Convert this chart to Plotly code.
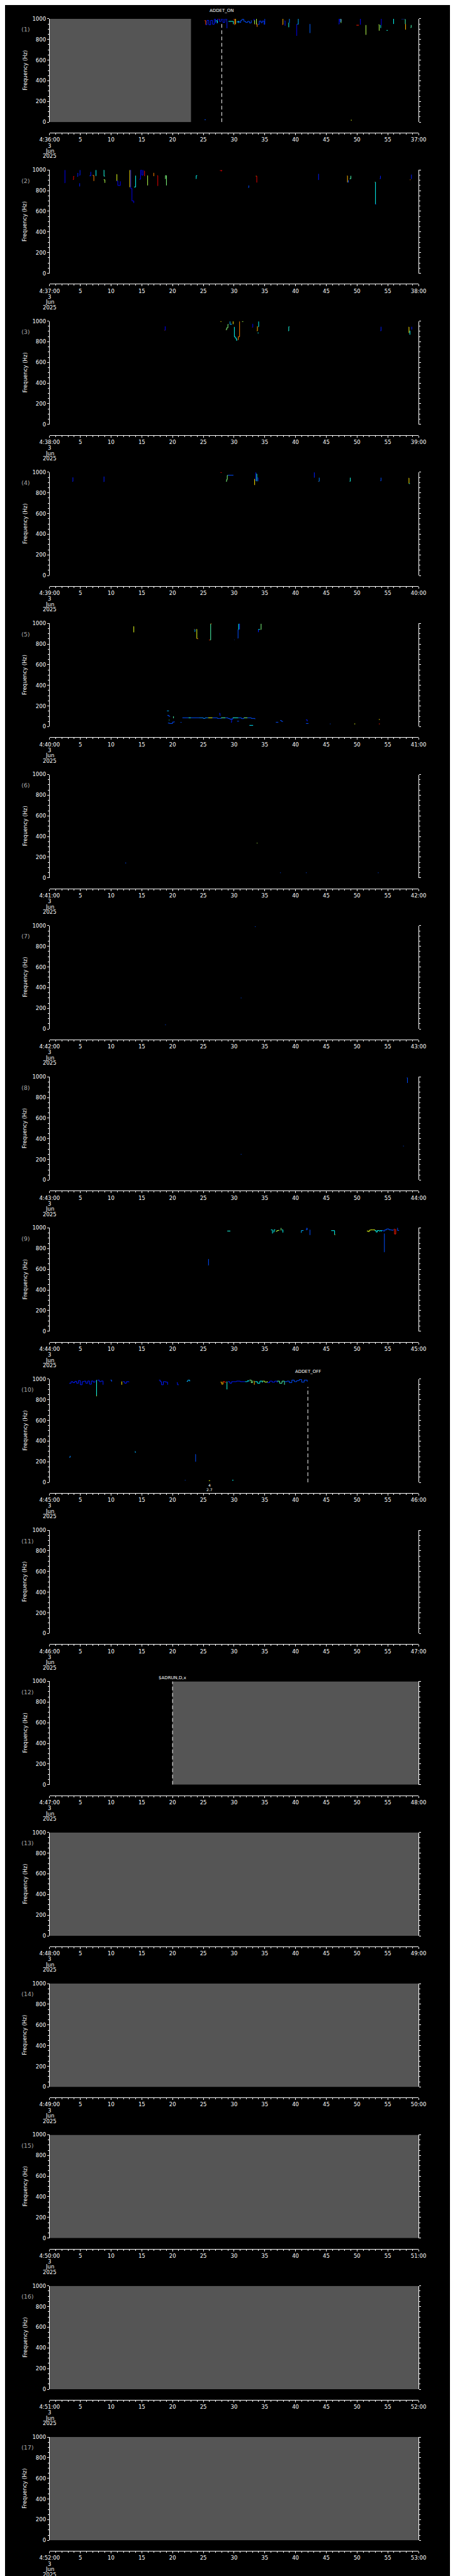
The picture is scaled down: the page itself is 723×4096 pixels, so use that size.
import plotly.graph_objects as go

# ---------------- reference geometry (reference pixels) ----------------
REF_W, REF_H = 1024.0, 5802.0
FIG_W, FIG_H = 723, 4096

N_PANELS = 17
START_HOUR = 4
START_MIN = 36
PLOT_L, PLOT_R = 80.7, 944.5
TOP0, PITCH, PLOT_H, AX_GAP = 24.0, 341.25, 233.3, 24.0

X_TICKS = list(range(0, 61, 5))
X_MINOR = list(range(0, 61, 1))
Y_TICKS = list(range(0, 1001, 200))
DATE_LINES = ["3", "Jun", "2025"]

# gray (no data) spans: panel -> (t0, t1) seconds
GRAY_SPANS = {1: (0, 23.0), 12: (20, 60), 13: (0, 60), 14: (0, 60),
              15: (0, 60), 16: (0, 60), 17: (0, 60)}

# event markers: (panel, time s, label, dashed line top Hz, label offset above panel top in ref px)
EVENTS = [(1, 28.0, "ADDET_ON", 967, 18),
          (10, 42.0, "ADDET_OFF", 923, 17),
          (12, 20.0, "$ADRUN,D,x", 1000, 8)]

# small text marks under panel 10
P10_MARKS = [(26.0, "4", 5.7), (26.0, "2.7", 15.7)]

# ---------------- traces: (colour level 0..1 on jet, times s, freqs Hz) ----------------
P1 = [
    (0.80, [25.2, 25.4], [982, 943]),
    (0.15, [25.4, 25.6, 25.9, 26.2, 26.5, 26.8, 27.0, 27.3, 27.6, 27.9], [943, 985, 943, 985, 948, 1000, 962, 1000, 975, 1000]),
    (0.38, [27.0, 27.3], [980, 958]),
    (0.90, [27.5, 27.7], [998, 998]),
    (0.15, [27.9, 28.2, 28.5, 28.8, 28.85], [1000, 965, 1000, 975, 908]),
    (0.40, [29.1, 29.6, 29.9], [975, 975, 948]),
    (0.80, [29.95, 30.1], [995, 940]),
    (0.65, [30.2, 30.25], [1000, 948]),
    (0.20, [30.4, 30.7, 30.9, 31.1, 31.3, 31.6, 31.9, 32.2, 32.5, 32.8], [970, 975, 965, 985, 995, 975, 965, 975, 960, 985]),
    (0.38, [30.6, 30.7], [975, 960]),
    (0.12, [33.2, 33.25], [1000, 980]),
    (0.55, [33.3, 33.35], [985, 948]),
    (0.90, [33.35, 33.45], [945, 945]),
    (0.55, [33.6, 33.65], [1000, 946]),
    (0.75, [33.7, 33.75], [950, 922]),
    (0.18, [33.9, 34.1, 34.4, 34.6, 34.9, 35.0], [946, 978, 962, 978, 946, 1000]),
    (0.90, [37.8, 37.9], [943, 943]),
    (0.70, [37.9, 37.95], [1000, 944]),
    (0.15, [38.2, 38.3], [980, 933]),
    (0.40, [38.85, 38.9], [960, 918]),
    (0.25, [38.95, 39.0], [1000, 960]),
    (0.10, [40.15, 40.2], [948, 835]),
    (0.30, [40.3, 40.45], [948, 1000]),
    (0.22, [42.3, 42.35], [948, 862]),
    (0.15, [47.0, 47.1, 47.2, 47.4], [950, 1000, 975, 1000]),
    (0.50, [47.3, 47.4], [995, 960]),
    (0.60, [49.0, 49.15], [19, 19]),
    (0.20, [25.2, 25.4], [23, 23]),
    (0.85, [49.9, 50.3], [938, 938]),
    (0.12, [50.5, 50.55], [1000, 943]),
    (0.55, [51.4, 51.45], [938, 845]),
    (0.55, [53.5, 53.6], [943, 885]),
    (0.40, [53.8, 53.85], [938, 910]),
    (0.10, [53.9, 53.95], [1000, 938]),
    (0.40, [54.8, 55.0], [888, 888]),
    (0.38, [55.9, 55.95], [1000, 950]),
    (0.20, [57.2, 57.7], [1000, 1000]),
    (0.45, [57.8, 57.85], [995, 948]),
    (0.70, [57.85, 57.9], [948, 895]),
    (0.45, [58.7, 58.8], [915, 940]),
]

P2 = [
    (0.12, [2.45, 2.5], [875, 1000]),
    (0.90, [3.8, 3.9, 4.0], [907, 938, 938]),
    (0.15, [4.5, 4.6], [938, 971]),
    (0.15, [4.85, 4.95], [950, 1000]),
    (0.15, [4.85, 4.9], [842, 871]),
    (0.15, [6.5, 6.7], [943, 981]),
    (0.75, [7.0, 7.2], [947, 893]),
    (0.38, [7.5, 7.55], [943, 1000]),
    (0.40, [8.8, 8.85, 9.0], [1000, 940, 940]),
    (0.55, [8.8, 9.0], [905, 875]),
    (0.60, [10.9, 10.95], [957, 893]),
    (0.12, [10.95, 11.1, 11.3, 11.5], [893, 850, 850, 890]),
    (0.65, [13.0, 13.05], [835, 1000]),
    (0.10, [13.1, 13.2, 13.4, 13.7], [1000, 820, 700, 680]),
    (0.38, [13.75, 14.0], [835, 945]),
    (0.12, [14.6, 14.8, 15.0, 15.2], [910, 1000, 950, 1000]),
    (0.90, [15.4, 15.45], [990, 940]),
    (0.55, [15.9, 15.95], [945, 850]),
    (0.75, [16.9, 16.95], [970, 940]),
    (0.90, [17.5, 17.6], [945, 845]),
    (0.50, [18.8, 18.85, 19.0], [915, 945, 850]),
    (0.38, [23.8, 23.85, 24.0], [915, 945, 945]),
    (0.90, [27.7, 27.9, 28.0], [995, 990, 1000]),
    (0.20, [32.3, 32.4], [830, 850]),
    (0.70, [33.55, 33.65], [940, 940]),
    (0.90, [33.6, 33.7], [940, 878]),
    (0.15, [43.7, 43.75], [905, 962]),
    (0.70, [48.4, 48.45], [943, 880]),
    (0.20, [48.5, 48.6], [880, 900]),
    (0.45, [48.8, 49.0], [915, 943]),
    (0.65, [52.9, 52.95], [882, 882]),
    (0.38, [52.95, 53.0], [882, 668]),
    (0.15, [53.0, 53.1], [668, 668]),
    (0.15, [53.7, 53.8], [915, 943]),
    (0.75, [58.6, 58.7], [905, 905]),
    (0.15, [58.8, 58.85], [915, 955]),
]

P3 = [
    (0.80, [18.7, 18.75], [911, 911]),
    (0.12, [18.75, 18.8], [911, 949]),
    (0.65, [27.8, 27.95], [996, 996]),
    (0.80, [28.65, 28.7], [916, 916]),
    (0.50, [28.7, 28.8, 29.0, 29.1], [916, 935, 968, 968]),
    (0.30, [29.3, 29.35, 29.6], [996, 968, 975]),
    (0.65, [29.8, 29.85], [996, 970]),
    (0.38, [30.0, 30.05, 30.2, 30.4, 30.45], [942, 849, 835, 813, 820]),
    (0.75, [30.6, 30.7, 30.85, 30.9], [820, 849, 849, 996]),
    (0.55, [31.3, 31.5], [996, 996]),
    (0.90, [32.95, 33.0], [939, 939]),
    (0.12, [33.0, 33.05], [971, 939]),
    (0.70, [33.7, 33.8], [906, 949]),
    (0.38, [33.95, 34.0], [945, 996]),
    (0.38, [33.85, 34.0], [885, 885]),
    (0.40, [38.8, 38.9, 39.0], [906, 945, 945]),
    (0.15, [53.8, 53.9], [906, 945]),
    (0.65, [58.4, 58.45], [942, 885]),
    (0.38, [58.55, 58.6], [905, 868]),
    (0.15, [58.85, 58.9], [920, 945]),
]

P4 = [
    (0.15, [3.7, 3.8], [912, 950]),
    (0.15, [8.8, 8.85], [908, 958]),
    (0.90, [27.8, 28.0], [997, 997]),
    (0.50, [28.7, 28.8, 28.9, 29.0], [912, 930, 969, 971]),
    (0.20, [29.0, 29.9], [971, 971]),
    (0.65, [33.3, 33.35], [933, 876]),
    (0.15, [33.5, 33.55], [997, 915]),
    (0.40, [33.65, 33.7], [983, 912]),
    (0.15, [33.85, 33.9], [947, 912]),
    (0.15, [43.0, 43.05], [997, 947]),
    (0.75, [43.7, 43.75], [910, 910]),
    (0.25, [43.75, 43.85], [912, 947]),
    (0.40, [48.8, 48.9], [912, 947]),
    (0.20, [53.8, 53.9], [917, 947]),
    (0.65, [58.4, 58.45], [943, 890]),
    (0.38, [58.45, 58.6], [890, 890]),
]

P5 = [
    (0.60, [13.65, 13.7], [970, 913]),
    (0.80, [23.5, 23.55], [943, 943]),
    (0.30, [23.6, 23.65], [920, 943]),
    (0.60, [23.9, 23.95], [943, 853]),
    (0.75, [23.95, 24.1], [853, 848]),
    (0.80, [25.95, 26.1], [839, 839]),
    (0.45, [26.15, 26.2], [839, 996]),
    (0.75, [26.2, 26.35], [996, 996]),
    (0.20, [30.05, 30.1], [841, 841]),
    (0.20, [30.6, 30.65], [856, 941]),
    (0.38, [30.7, 30.75], [941, 996]),
    (0.15, [30.85, 30.9], [996, 941]),
    (0.15, [33.9, 33.95], [916, 941]),
    (0.38, [33.95, 34.2], [941, 941]),
    (0.50, [34.3, 34.4], [941, 996]),
    (0.30, [19.1, 19.4], [153, 153]),
    (0.20, [19.15, 19.4, 19.6], [110, 100, 100]),
    (0.45, [20.1, 20.15], [84, 100]),
    (0.20, [19.25, 19.5, 20.0, 20.3], [35, 31, 45, 50]),
    (0.40, [19.4, 19.5], [64, 64]),
    (0.20, [21.3, 21.45], [42, 42]),
    (0.20, [21.6, 22.6], [86, 86]),
    (0.40, [22.6, 23.0], [86, 86]),
    (0.20, [23.0, 24.3], [86, 86]),
    (0.25, [24.3, 25.0, 25.3, 25.8], [86, 80, 86, 86]),
    (0.60, [25.8, 26.5], [86, 86]),
    (0.20, [26.5, 27.3, 27.6, 27.9], [86, 80, 80, 86]),
    (0.45, [27.9, 28.6], [86, 86]),
    (0.20, [28.6, 29.0, 29.3, 29.8], [86, 80, 73, 86]),
    (0.40, [29.8, 30.7], [86, 86]),
    (0.20, [30.7, 31.2, 31.6], [86, 78, 86]),
    (0.50, [31.6, 32.2], [86, 86]),
    (0.20, [32.2, 32.8, 33.4], [86, 80, 73]),
    (0.15, [27.6, 27.7, 27.8], [130, 110, 110]),
    (0.15, [29.5, 29.6], [43, 81]),
    (0.20, [30.5, 30.8], [53, 53]),
    (0.35, [32.5, 33.1], [13, 13]),
    (0.20, [36.8, 37.2], [43, 43]),
    (0.20, [37.5, 37.7, 37.9], [60, 52, 47]),
    (0.15, [41.7, 41.9], [66, 52]),
    (0.20, [41.7, 42.1], [31, 31]),
    (0.20, [45.6, 45.7], [27, 27]),
    (0.60, [49.55, 49.7], [27, 27]),
    (0.65, [53.55, 53.7], [70, 70]),
    (0.85, [53.55, 53.7], [27, 27]),
]

P6 = [
    (0.20, [12.3, 12.45], [144, 144]),
    (0.55, [33.7, 33.8], [336, 336]),
    (0.20, [37.5, 37.6], [49, 49]),
    (0.20, [41.7, 41.8], [49, 49]),
    (0.20, [53.4, 53.5], [49, 49]),
]

P7 = [
    (0.20, [33.4, 33.5], [990, 990]),
    (0.20, [31.1, 31.2], [300, 300]),
    (0.20, [18.8, 18.9], [40, 40]),
]

P8 = [
    (0.20, [58.1, 58.2], [990, 940]),
    (0.20, [57.5, 57.6], [330, 330]),
    (0.20, [31.1, 31.2], [250, 250]),
]

P9 = [
    (0.40, [28.9, 29.4], [970, 970]),
    (0.20, [25.8, 25.85], [639, 699]),
    (0.38, [36.0, 36.2, 36.25], [981, 981, 946]),
    (0.38, [36.4, 36.5, 36.7], [960, 981, 981]),
    (0.55, [36.8, 37.0, 37.3], [967, 975, 981]),
    (0.50, [37.6, 37.65], [1000, 975]),
    (0.38, [37.8, 37.9, 37.95], [981, 981, 955]),
    (0.30, [40.9, 40.95, 41.3], [955, 975, 975]),
    (0.20, [41.7, 41.8, 41.9], [981, 1000, 981]),
    (0.20, [42.3, 42.35], [981, 931]),
    (0.38, [45.8, 46.3, 46.35], [974, 974, 934]),
    (0.65, [46.35, 46.45], [934, 934]),
    (0.60, [51.6, 51.8, 52.0, 52.2, 52.6, 52.9], [970, 965, 978, 981, 981, 975]),
    (0.38, [52.9, 53.1, 53.3, 53.6, 53.8, 54.0], [975, 960, 975, 970, 975, 965]),
    (0.20, [54.0, 54.3, 54.5, 54.8, 55.2, 55.6, 55.9], [975, 970, 981, 990, 981, 978, 985]),
    (0.85, [56.0, 56.1, 56.25, 56.3], [989, 941, 941, 989]),
    (0.20, [54.4, 54.45], [767, 946]),
    (0.20, [56.5, 56.6, 56.8], [1000, 975, 978]),
]

P10 = [
    (0.15, [3.2, 3.5, 3.8, 4.1, 4.4, 4.7, 5.0, 5.3, 5.6, 5.9, 6.2, 6.5, 6.8, 7.1, 7.4], [960, 975, 965, 978, 960, 985, 945, 975, 980, 960, 981, 950, 981, 970, 985]),
    (0.40, [7.6, 7.65], [990, 836]),
    (0.65, [7.6, 7.7], [836, 836]),
    (0.15, [7.8, 8.1, 8.4, 8.7], [990, 975, 981, 945]),
    (0.20, [9.9, 10.1], [990, 975]),
    (0.65, [11.7, 11.75], [975, 945]),
    (0.15, [11.9, 12.2, 12.5, 12.9], [975, 960, 975, 970]),
    (0.15, [17.8, 18.0, 18.2, 18.5, 18.9, 19.2], [990, 975, 945, 975, 970, 945]),
    (0.15, [20.7, 20.8, 21.0], [965, 945, 945]),
    (0.30, [22.3, 22.5, 22.8], [978, 990, 978]),
    (0.70, [27.8, 28.0, 28.2], [970, 950, 975]),
    (0.85, [28.2, 28.5, 28.7], [975, 968, 968]),
    (0.40, [28.8, 28.85], [975, 900]),
    (0.15, [29.0, 29.3, 29.6, 30.0, 30.4, 31.0, 31.8], [975, 960, 975, 975, 980, 975, 975]),
    (0.35, [31.8, 32.2, 32.4], [975, 985, 975]),
    (0.50, [32.5, 32.8, 33.0], [990, 965, 985]),
    (0.70, [33.2, 33.3], [980, 945]),
    (0.38, [33.4, 33.8, 34.2, 34.6], [975, 960, 980, 965]),
    (0.55, [34.6, 35.0, 35.4], [980, 970, 980]),
    (0.15, [35.4, 35.8, 36.2, 36.6, 37.0], [965, 980, 970, 980, 965]),
    (0.45, [37.0, 37.4, 37.8, 38.2], [980, 960, 980, 945]),
    (0.20, [38.2, 38.6, 39.0, 39.4, 39.8, 40.2, 40.6, 41.0, 41.4, 41.9], [975, 980, 965, 990, 975, 985, 995, 970, 990, 975]),
    (0.25, [3.2, 3.35], [243, 257]),
    (0.30, [13.9, 13.95], [300, 286]),
    (0.20, [23.7, 23.75], [271, 200]),
    (0.20, [22.0, 22.1], [21, 21]),
    (0.60, [25.9, 26.1], [17, 17]),
    (0.38, [29.7, 29.9], [21, 21]),
]

P11 = []

PANEL_DATA = {1: P1, 2: P2, 3: P3, 4: P4, 5: P5, 6: P6, 7: P7, 8: P8,
              9: P9, 10: P10, 11: P11}

# ---------------- helpers ----------------
FONT = "DejaVu Sans"
GRAY_FILL = "#555555"
LABEL_GRAY = "#a8a8a8"


def jet(v):
    def c(x):
        return int(round(255 * min(max(x, 0.0), 1.0)))
    r = c(1.5 - abs(4 * v - 3))
    g = c(1.5 - abs(4 * v - 2))
    b = c(1.5 - abs(4 * v - 1))
    return f"rgb({r},{g},{b})"


def pf(yref):
    """reference y pixel -> paper fraction"""
    return 1.0 - yref / REF_H


def xf(xref):
    return xref / REF_W


fig = go.Figure()
layout = dict(
    width=FIG_W, height=FIG_H,
    margin=dict(l=0, r=0, t=0, b=0, pad=0),
    paper_bgcolor="black", plot_bgcolor="black",
    showlegend=False,
    font=dict(family=FONT, color="white", size=8.5),
)
shapes = []
annotations = []

for n in range(1, N_PANELS + 1):
    top = TOP0 + (n - 1) * PITCH
    bot = top + PLOT_H
    axline = bot + AX_GAP
    xa = "x" if n == 1 else f"x{n}"
    ya = "y" if n == 1 else f"y{n}"
    xkey = "xaxis" if n == 1 else f"xaxis{n}"
    ykey = "yaxis" if n == 1 else f"yaxis{n}"

    m = START_MIN + n - 1
    ticktext = [f"{START_HOUR}:{m:02d}:00"] + [str(v) for v in X_TICKS[1:-1]] + [f"{m + 1:02d}:00"]

    layout[xkey] = dict(
        domain=[xf(PLOT_L), xf(PLOT_R)], range=[0, 60], anchor="free",
        position=pf(axline), showgrid=False, zeroline=False,
        showline=True, linecolor="white", linewidth=1,
        ticks="outside", ticklen=3, tickwidth=1, tickcolor="white",
        tickmode="array", tickvals=X_TICKS, ticktext=ticktext,
        tickfont=dict(family=FONT, color="white", size=8.5),
        minor=dict(tickmode="array", tickvals=X_MINOR, ticks="outside",
                   ticklen=2, tickwidth=1, tickcolor="white", showgrid=False),
        fixedrange=True,
    )
    layout[ykey] = dict(
        domain=[pf(bot), pf(top)], range=[0, 1000], anchor=xa,
        showgrid=False, zeroline=False,
        showline=True, linecolor="white", linewidth=1, mirror="ticks",
        ticks="outside", ticklen=3, tickwidth=1, tickcolor="white",
        tickmode="array", tickvals=Y_TICKS, ticktext=[str(v) for v in Y_TICKS],
        tickfont=dict(family=FONT, color="white", size=8.5),
        minor=dict(dtick=50, tick0=0, ticks="outside", ticklen=2,
                   tickwidth=1, tickcolor="white", showgrid=False),
        fixedrange=True,
    )

    # empty trace so that every subplot exists
    fig.add_trace(go.Scatter(x=[None], y=[None], mode="lines", xaxis=xa, yaxis=ya,
                             hoverinfo="skip", showlegend=False))

    # gray no-data area (filled trace, drawn under the data)
    if n in GRAY_SPANS:
        t0, t1 = GRAY_SPANS[n]
        fig.add_trace(go.Scatter(x=[t0, t1, t1, t0, t0], y=[0, 0, 1000, 1000, 0],
                                 mode="lines", fill="toself", fillcolor=GRAY_FILL,
                                 line=dict(width=0, color=GRAY_FILL),
                                 xaxis=xa, yaxis=ya, hoverinfo="skip", showlegend=False))

    # data traces
    for lvl, ts, fs in PANEL_DATA.get(n, []):
        fig.add_trace(go.Scatter(x=ts, y=fs, mode="lines", xaxis=xa, yaxis=ya,
                                 line=dict(color=jet(lvl), width=1, shape="hv"),
                                 hoverinfo="skip", showlegend=False))

    # y title
    annotations.append(dict(text="Frequency (Hz)", xref="paper", yref="paper",
                            x=xf(23), y=pf((top + bot) / 2), textangle=-90,
                            showarrow=False, xanchor="center", yanchor="middle",
                            font=dict(family=FONT, size=8.5, color="white")))
    # panel number
    annotations.append(dict(text=f"({n})", xref="paper", yref="paper",
                            x=xf(12), y=pf(top + 24), showarrow=False,
                            xanchor="left", yanchor="middle",
                            font=dict(family=FONT, size=9.5, color=LABEL_GRAY)))
    # date lines under first tick label
    for i, s in enumerate(DATE_LINES):
        annotations.append(dict(text=s, xref=xa, yref="paper", x=0,
                                y=pf(axline + 29 + 12 * i), showarrow=False,
                                xanchor="center", yanchor="middle",
                                font=dict(family=FONT, size=8.5, color="white")))

# event markers
for n, t, label, ftop, off in EVENTS:
    top = TOP0 + (n - 1) * PITCH
    xa = "x" if n == 1 else f"x{n}"
    ya = "y" if n == 1 else f"y{n}"
    shapes.append(dict(type="line", xref=xa, yref=ya, x0=t, x1=t, y0=0, y1=ftop,
                       line=dict(color="white", width=1, dash="6px,4px"), layer="above"))
    annotations.append(dict(text=label, xref=xa, yref="paper", x=t,
                            y=pf(top - off), showarrow=False, xanchor="center",
                            yanchor="middle",
                            font=dict(family=FONT, size=7, color="white")))

# small marks below panel 10
top10 = TOP0 + 9 * PITCH
for t, s, off in P10_MARKS:
    annotations.append(dict(text=s, xref="x10", yref="paper", x=t,
                            y=pf(top10 + PLOT_H + off), showarrow=False,
                            xanchor="center", yanchor="middle",
                            font=dict(family=FONT, size=6, color="white")))

layout["shapes"] = shapes
layout["annotations"] = annotations
fig.update_layout(**layout)
fig.write_html("out.html")
